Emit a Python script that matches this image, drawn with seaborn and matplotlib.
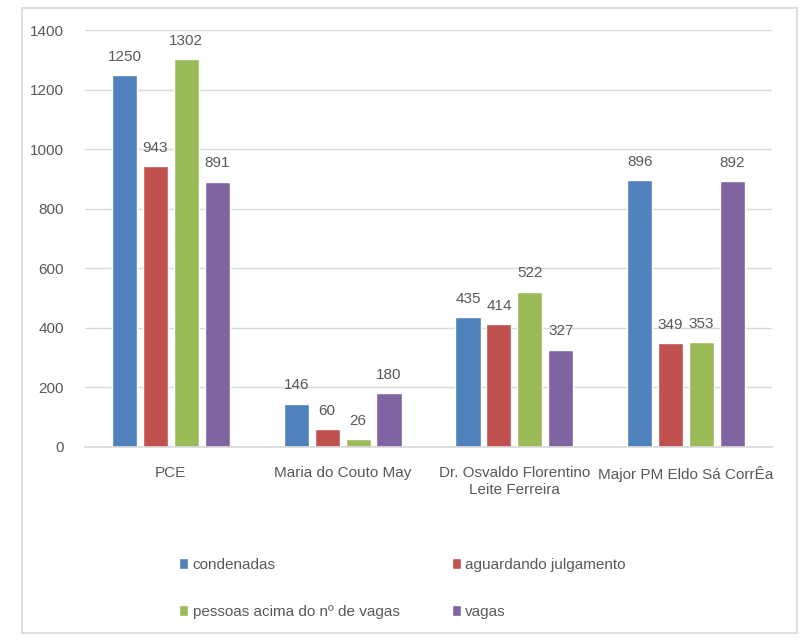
import matplotlib
matplotlib.use("Agg")
import matplotlib.pyplot as plt
import seaborn as sns
import pandas as pd
from matplotlib.patches import Rectangle

sns.set_theme(style="white")
plt.rcParams['font.family'] = ['Liberation Sans', 'DejaVu Sans']

# dados
unidades = ["PCE", "Maria do Couto May", "Dr. Osvaldo Florentino\nLeite Ferreira", "Major PM Eldo Sá CorrÊa"]
series = ["condenadas", "aguardando julgamento", "pessoas acima do nº de vagas", "vagas"]
condenadas = [1250, 146, 435, 896]
aguardando = [943, 60, 414, 349]
acima_vagas = [1302, 26, 522, 353]
vagas = [891, 180, 327, 892]
cores = ["#4F81BD", "#C0504D", "#9BBB59", "#8064A2"]

valores = [condenadas, aguardando, acima_vagas, vagas]
df = pd.DataFrame([
    {"unidade": u, "serie": s, "valor": v[i]}
    for s, v in zip(series, valores)
    for i, u in enumerate(unidades)
])

texto = "#595959"
fs = 11
fig = plt.figure(figsize=(8.02, 6.41), dpi=100)
ax = fig.add_axes([85 / 802, 1 - 447 / 641, 687 / 802, 417 / 641])

# moldura externa
fig.patches.append(Rectangle((22 / 802, 1 - 633 / 641), 775 / 802, 625 / 641,
                             transform=fig.transFigure, fill=False,
                             edgecolor="#D9D9D9", linewidth=1.2))

sns.barplot(data=df, x="unidade", y="valor", hue="serie", palette=cores,
            order=unidades, hue_order=series, width=0.72, gap=0.19,
            saturation=1, errorbar=None, ax=ax, legend=True)

for cont in ax.containers:
    ax.bar_label(cont, padding=8, color=texto, fontsize=fs)

ax.set_ylim(0, 1400)
ax.set_yticks(range(0, 1401, 200))
ax.set_xlim(-0.5, 3.5)
ax.yaxis.grid(True, color="#D9D9D9", linewidth=1)
ax.set_axisbelow(True)
for lado in ["top", "right", "left"]:
    ax.spines[lado].set_visible(False)
ax.spines["bottom"].set_color("#D9D9D9")
ax.tick_params(axis="both", length=0, colors=texto, labelsize=fs)
ax.tick_params(axis="y", pad=15)
ax.tick_params(axis="x", pad=14)
ax.set_xlabel("")
ax.set_ylabel("")

# legenda em linhas: condenadas / aguardando, pessoas / vagas
handles, labels = ax.get_legend_handles_labels()
ordem = [0, 2, 1, 3]
ax.legend([handles[i] for i in ordem], [labels[i] for i in ordem], ncol=2,
          frameon=False, loc="upper left",
          bbox_to_anchor=(179 / 802, 1 - 558 / 641), bbox_transform=fig.transFigure,
          fontsize=fs, labelcolor=texto, handlelength=0.6, handleheight=0.75,
          handletextpad=0.3, columnspacing=3.4, labelspacing=2.15,
          borderaxespad=0, borderpad=0)

fig.savefig("out.png", dpi=100)
